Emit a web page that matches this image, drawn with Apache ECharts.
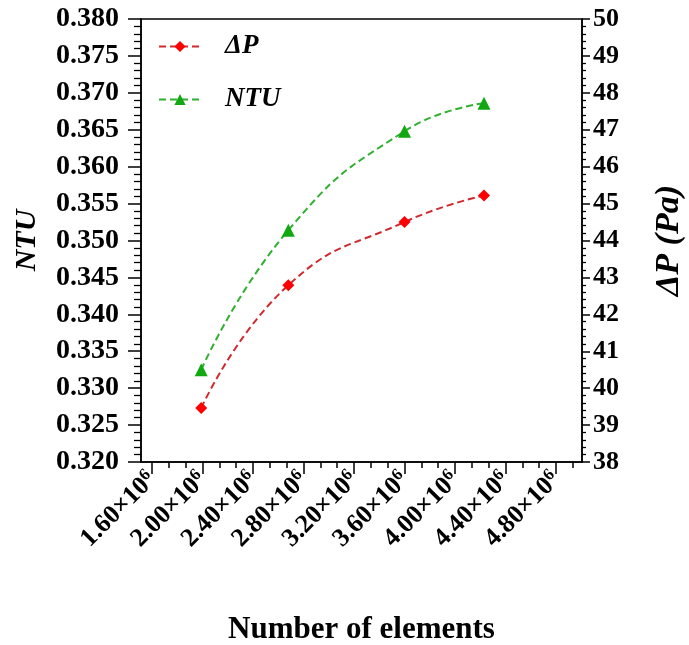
<!DOCTYPE html>
<html>
<head>
<meta charset="utf-8">
<script src="https://cdn.jsdelivr.net/npm/echarts@6/dist/echarts.min.js"></script>
<style>
  html, body { margin: 0; padding: 0; background: #fff; }
  #chart { width: 689px; height: 645px; }
</style>
</head>
<body>
<div id="chart"></div>
<script>
// Mesh size (millions of elements) and the two responses
const elements = [1.99, 2.68, 3.60, 4.23];
const ntu = [0.3325, 0.3514, 0.3648, 0.3686];
const deltaP = [39.46, 42.79, 44.50, 45.22];

// Tick positions along the element axis (millions)
const xMajorTicks = [1.6, 2.0, 2.4, 2.8, 3.2, 3.6, 4.0, 4.4, 4.8];
const xMinorTicks = [1.7333, 1.8667, 2.1333, 2.2667, 2.5333, 2.6667, 2.9333, 3.0667,
  3.3333, 3.4667, 3.7333, 3.8667, 4.1333, 4.2667, 4.5333, 4.6667, 4.9333];

// Minor tick positions on the two vertical axes (between labelled ticks)
function minorSteps(min, max, step, every) {
  const out = [];
  const n = Math.round((max - min) / step);
  for (let i = 1; i < n; i++) {
    if (i % every !== 0) out.push(+(min + i * step).toFixed(6));
  }
  return out;
}
const ntuMinorTicks = minorSteps(0.320, 0.380, 0.001, 5);
const dpMinorTicks = minorSteps(38, 50, 0.2, 5);

const FONT = '"Liberation Serif", "Times New Roman", serif';
const X_MIN = 1.513, X_MAX = 5.006;
const BLACK = '#000';

const chart = echarts.init(document.getElementById('chart'), null, { renderer: 'canvas' });

const pair = (xs, ys) => xs.map((x, i) => [x, ys[i]]);

// Hidden-line axis used only to draw short minor ticks
function minorAxis(extra) {
  return Object.assign({
    type: 'value',
    axisLine: { show: false },
    axisLabel: { show: false },
    splitLine: { show: false }
  }, extra);
}

const option = {
  backgroundColor: '#fff',
  animation: false,
  textStyle: { fontFamily: FONT },
  grid: {
    left: 141, right: 107, top: 19, bottom: 183,
    containLabel: false, outerBoundsMode: 'none',
    show: true, borderColor: BLACK, borderWidth: 1.5
  },
  legend: {
    left: 158, top: 33, orient: 'vertical', padding: 0,
    itemWidth: 42, itemHeight: 14, itemGap: 26,
    data: ['ΔP', 'NTU'],
    textStyle: {
      fontFamily: FONT, fontSize: 27, fontWeight: 'bold', fontStyle: 'italic',
      color: BLACK, padding: [0, 0, 0, 19]
    }
  },
  xAxis: [
    {
      type: 'value', min: X_MIN, max: X_MAX,
      name: 'Number of elements', nameLocation: 'middle', nameGap: 152,
      nameTextStyle: { fontFamily: FONT, fontSize: 31, fontWeight: 'bold', color: BLACK },
      axisLine: { show: true, lineStyle: { color: BLACK, width: 1.5 } },
      axisTick: { show: true, inside: false, length: 12, customValues: xMajorTicks,
        lineStyle: { color: BLACK, width: 1.5 } },
      axisLabel: {
        show: true, rotate: 45, margin: 14, customValues: xMajorTicks,
        formatter: v => '{a|' + v.toFixed(2) + '×10}{s|6}',
        rich: {
          a: { fontFamily: FONT, fontSize: 26, fontWeight: 'bold', color: BLACK },
          s: { fontFamily: FONT, fontSize: 17, fontWeight: 'bold', color: BLACK,
               verticalAlign: 'top', padding: [0, 0, 11, 0] }
        }
      },
      splitLine: { show: false }
    },
    minorAxis({
      min: X_MIN, max: X_MAX, position: 'bottom',
      axisTick: { show: true, inside: false, length: 6, customValues: xMinorTicks,
        lineStyle: { color: BLACK, width: 1.5 } }
    })
  ],
  yAxis: [
    {
      type: 'value', min: 0.320, max: 0.380, interval: 0.005, position: 'left',
      name: 'NTU', nameLocation: 'middle', nameGap: 99, nameRotate: 90,
      nameTextStyle: { fontFamily: FONT, fontSize: 30, fontWeight: 'bold', fontStyle: 'italic', color: BLACK },
      axisLine: { show: true, lineStyle: { color: BLACK, width: 1.5 } },
      axisTick: { show: true, inside: false, length: 13, lineStyle: { color: BLACK, width: 1.5 } },
      axisLabel: {
        margin: 22, fontFamily: FONT, fontSize: 28, fontWeight: 'bold', color: BLACK,
        formatter: v => v.toFixed(3)
      },
      splitLine: { show: false }
    },
    {
      type: 'value', min: 38, max: 50, interval: 1, position: 'right',
      name: 'ΔP (Pa)', nameLocation: 'middle', nameGap: 70, nameRotate: 90,
      nameTextStyle: { fontFamily: FONT, fontSize: 34, fontWeight: 'bold', fontStyle: 'italic', color: BLACK },
      axisLine: { show: true, lineStyle: { color: BLACK, width: 1.5 } },
      axisTick: { show: true, inside: false, length: 8, lineStyle: { color: BLACK, width: 1.5 } },
      axisLabel: {
        margin: 11, fontFamily: FONT, fontSize: 26, fontWeight: 'bold', color: BLACK
      },
      splitLine: { show: false }
    },
    minorAxis({
      min: 0.320, max: 0.380, position: 'left',
      axisTick: { show: true, inside: false, length: 7, customValues: ntuMinorTicks,
        lineStyle: { color: BLACK, width: 1.3 } }
    }),
    minorAxis({
      min: 38, max: 50, position: 'right',
      axisTick: { show: true, inside: false, length: 4, customValues: dpMinorTicks,
        lineStyle: { color: BLACK, width: 1.3 } }
    })
  ],
  series: [
    {
      name: 'ΔP', type: 'line', xAxisIndex: 0, yAxisIndex: 1,
      data: pair(elements, deltaP),
      smooth: 0.5,
      symbol: 'diamond', symbolSize: 12,
      itemStyle: { color: '#ff0000' },
      lineStyle: { color: '#d02a2e', width: 2, type: [7, 4] }
    },
    {
      name: 'NTU', type: 'line', xAxisIndex: 0, yAxisIndex: 0,
      data: pair(elements, ntu),
      smooth: 0.5,
      symbol: 'triangle', symbolSize: 13,
      itemStyle: { color: '#12a812' },
      lineStyle: { color: '#2fb02f', width: 2, type: [7, 4] }
    }
  ]
};

chart.setOption(option);
</script>
</body>
</html>
